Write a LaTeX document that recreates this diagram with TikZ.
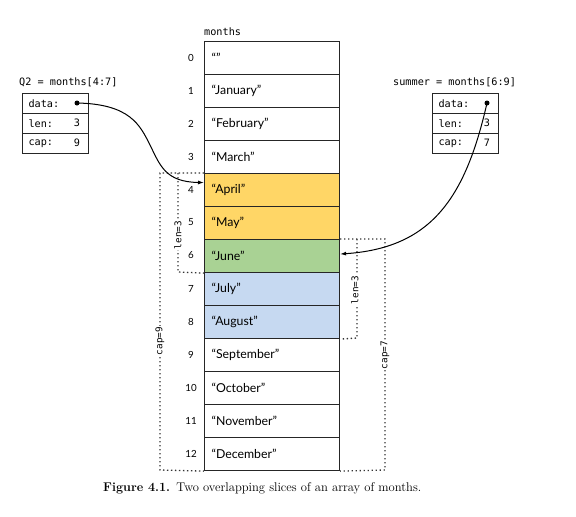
\documentclass[tikz,border=0pt]{standalone}
\usepackage{fontspec}
\newfontfamily\lato{Lato}
\setmonofont{DejaVu Sans Mono}
\usetikzlibrary{arrows.meta}
\definecolor{aprcol}{RGB}{255,214,102}
\definecolor{juncol}{RGB}{169,210,148}
\definecolor{julcol}{RGB}{198,217,241}
\tikzset{
  cell/.style={draw=black!85, line width=1.1pt, anchor=north west,
    minimum width=135pt, minimum height=33pt, inner xsep=7pt,
    text width=121pt, align=left, font=\lato\fontsize{12.3}{14}\selectfont},
  idx/.style={font=\lato\fontsize{9.8}{11}\selectfont, inner sep=0pt},
  mono/.style={font=\ttfamily\fontsize{10.2}{12}\selectfont, inner sep=0pt},
  field/.style={draw=black!85, line width=1.1pt, anchor=north west,
    minimum width=66pt, minimum height=20pt, inner xsep=6pt,
    text width=54pt, align=left, font=\ttfamily\fontsize{10.2}{12}\selectfont},
  fval/.style={font=\ttfamily\fontsize{10.2}{12}\selectfont, inner sep=0pt},
  ptrdot/.style={circle, fill=black, inner sep=0pt, minimum size=5pt},
  ptr/.style={line width=1pt, -{Latex[length=6pt,width=4pt]}},
  dotline/.style={line width=1.3pt, black!80, dash pattern=on 1.3pt off 2.7pt},
  brlabel/.style={font=\ttfamily\fontsize{9.3}{11}\selectfont, fill=white, inner sep=1pt, rotate=90},
}
\begin{document}
\begin{tikzpicture}[x=1pt,y=-1pt]
\useasboundingbox (0,0) rectangle (576,517);
% array
\node[anchor=base west, mono] (mlabel) at (204,35) {months};
\node[cell] (c0) at (204,41) {“”};
\node[cell] (c1) at (204,74) {“January”};
\node[cell] (c2) at (204,107) {“February”};
\node[cell] (c3) at (204,140) {“March”};
\node[cell, fill=aprcol] (c4) at (204,173) {“April”};
\node[cell, fill=aprcol] (c5) at (204,206) {“May”};
\node[cell, fill=juncol] (c6) at (204,239) {“June”};
\node[cell, fill=julcol] (c7) at (204,272) {“July”};
\node[cell, fill=julcol] (c8) at (204,305) {“August”};
\node[cell] (c9) at (204,338) {“September”};
\node[cell] (c10) at (204,371) {“October”};
\node[cell] (c11) at (204,404) {“November”};
\node[cell] (c12) at (204,437) {“December”};
\foreach \i in {0,...,12} {
  \node[idx] (i\i) at (191,{57.5+33*\i}) {\i};
}
% Q2 slice header
\node[anchor=base west, mono] (q2label) at (19,85) {Q2 = months[4:7]};
\node[field] (q2data) at (22,93) {data:};
\node[field] (q2len) at (22,113) {len:};
\node[field] (q2cap) at (22,133) {cap:};
\node[ptrdot] (q2dot) at (77,103) {};
\node[fval] (q2lenv) at (77,123) {3};
\node[fval] (q2capv) at (77,143) {9};
% summer slice header
\node[anchor=base west, mono] (smlabel) at (393,85) {summer = months[6:9]};
\node[field] (smdata) at (432,93) {data:};
\node[field] (smlen) at (432,113) {len:};
\node[field] (smcap) at (432,133) {cap:};
\node[ptrdot] (smdot) at (487,103) {};
\node[fval] (smlenv) at (487,123) {3};
\node[fval] (smcapv) at (487,143) {7};
% brackets Q2
\draw[dotline] (c4.north west) -- (160,173) -- (160,470) -- (c12.south west);
\draw[dotline] (178,173) -- (178,272) -- (c6.south west);
\node[brlabel] (q2lenl) at (178,235) {len=3};
\node[brlabel] (q2capl) at (160,341) {cap=9};
% brackets summer
\draw[dotline] (c6.north east) -- (385,239) -- (385,470) -- (c12.south east);
\draw[dotline] (357,239) -- (357,338) -- (c8.south east);
\node[brlabel] (smlenl) at (355,290) {len=3};
\node[brlabel] (smcapl) at (385,355) {cap=7};
% pointers
\coordinate (q2via) at (150,145);
\draw[ptr] (q2dot.center) .. controls (130,104) and (140,125) .. (q2via)
  .. controls (160,165) and (165,182) .. ([yshift=7.5pt]c4.west);
\draw[ptr] (smdot.center) .. controls (465,200) and (430,248) .. ([yshift=2pt]c6.east);
% caption
\node[anchor=base west, inner sep=0pt, font=\fontsize{12.6}{14}\selectfont] (caption) at (103,491)
  {\textbf{Figure 4.1.}\enspace Two overlapping slices of an array of months.};
\end{tikzpicture}
\end{document}
